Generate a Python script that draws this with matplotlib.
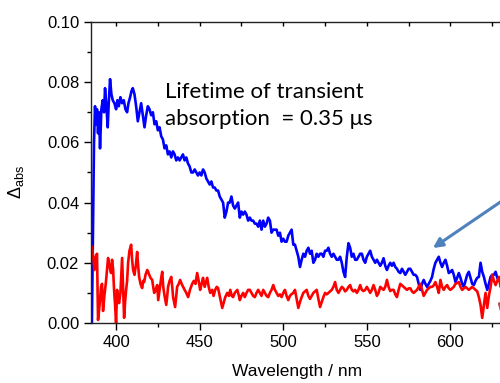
import matplotlib
matplotlib.use("Agg")
import matplotlib.pyplot as plt
from matplotlib.ticker import MultipleLocator

plt.rcParams["font.family"] = ["Liberation Sans", "DejaVu Sans"]
plt.rcParams["mathtext.fontset"] = "custom"
plt.rcParams["mathtext.rm"] = "Liberation Sans"
plt.rcParams["mathtext.it"] = "Liberation Sans:italic"

# transient absorption spectrum (blue) and background (red)
blue_nm = [385.5, 386.2, 386.8, 387.4, 388.0, 388.6, 389.2, 389.8, 390.4, 391.2,
           392.0, 392.8, 393.4, 394.2, 395.0, 395.6, 396.4, 397.2, 398.0, 399.0,
           400, 400.8, 401.6, 402.6, 403.6, 404.6, 405.6, 406.6, 407.4, 408.4,
           409.2, 410, 411, 412, 413, 414, 415, 416, 417, 418, 419, 420, 421, 422,
           423, 424, 425, 426, 427, 428, 429, 430, 431, 432, 433, 434, 435, 436,
           437, 438, 439, 440, 441, 442, 443, 444, 445, 446, 447, 448, 449, 450,
           451, 452, 453, 454, 455, 456, 457, 458, 459, 460, 461, 462, 463, 464,
           465, 466, 467, 468, 469, 470, 471, 472, 473, 474, 475, 476, 477, 478,
           479, 480, 481, 482, 483, 484, 485, 486, 487, 488, 489, 490, 491, 492,
           493, 494, 495, 496, 497, 498, 499, 500, 501, 502, 503, 504, 505, 506,
           507, 508, 509, 510, 511, 512, 513, 514, 515, 516, 517, 518, 519, 520,
           521, 522, 523, 524, 525, 526, 527, 528, 529, 530, 531, 532, 533, 534,
           535, 536, 537, 538, 539, 540, 541, 542, 543, 544, 545, 546, 547, 548,
           549, 550, 551, 552, 553, 554, 555, 556, 557, 558, 559, 560, 561, 562,
           563, 564, 565, 566, 567, 568, 569, 570, 571, 572, 573, 574, 575, 576,
           577, 578, 579, 580, 581, 582, 583, 584, 585, 586, 587, 588, 589, 590,
           591, 592, 593, 594, 595, 596, 597, 598, 599, 600, 601, 602, 603, 604,
           605, 606, 607, 608, 609, 610, 611, 612, 613, 614, 615, 616, 617, 618,
           619, 620, 621, 622, 623, 624, 625, 626, 627, 628, 629, 630, 631]
blue_abs = [-0.002, 0.030, 0.060, 0.072, 0.066, 0.071, 0.063, 0.070, 0.058, 0.071,
            0.074, 0.070, 0.078, 0.072, 0.065, 0.073, 0.081, 0.076, 0.074, 0.073,
            0.071, 0.074, 0.072, 0.075, 0.073, 0.074, 0.071, 0.070, 0.073, 0.075,
            0.077, 0.078, 0.076, 0.072, 0.067, 0.070, 0.073, 0.069, 0.065, 0.069,
            0.072, 0.071, 0.069, 0.070, 0.066, 0.067, 0.064, 0.065, 0.062, 0.061,
            0.058, 0.059, 0.056, 0.057, 0.055, 0.057, 0.056, 0.054, 0.055, 0.054,
            0.055, 0.056, 0.054, 0.055, 0.053, 0.052, 0.050, 0.050, 0.051, 0.050,
            0.049, 0.050, 0.049, 0.051, 0.050, 0.048, 0.047, 0.046, 0.047, 0.045,
            0.045, 0.044, 0.044, 0.042, 0.041, 0.040, 0.035, 0.037, 0.040, 0.040,
            0.042, 0.039, 0.038, 0.039, 0.040, 0.035, 0.037, 0.036, 0.037, 0.036,
            0.034, 0.035, 0.034, 0.034, 0.033, 0.033, 0.032, 0.034, 0.031, 0.034,
            0.032, 0.033, 0.035, 0.034, 0.030, 0.031, 0.031, 0.031, 0.029, 0.030,
            0.027, 0.028, 0.027, 0.027, 0.029, 0.030, 0.031, 0.026, 0.026, 0.024,
            0.022, 0.0186, 0.021, 0.023, 0.022, 0.024, 0.025, 0.023, 0.024, 0.020,
            0.021, 0.023, 0.022, 0.023, 0.023, 0.022, 0.024, 0.024, 0.025, 0.023,
            0.022, 0.023, 0.022, 0.021, 0.021, 0.022, 0.020, 0.017, 0.0153, 0.022,
            0.0265, 0.025, 0.022, 0.023, 0.021, 0.021, 0.022, 0.023, 0.023, 0.021,
            0.020, 0.022, 0.023, 0.024, 0.022, 0.021, 0.020, 0.021, 0.020, 0.019,
            0.020, 0.0215, 0.019, 0.0176, 0.019, 0.020, 0.019, 0.020, 0.0186, 0.018,
            0.017, 0.0166, 0.018, 0.017, 0.016, 0.017, 0.018, 0.018, 0.017, 0.016,
            0.016, 0.0153, 0.013, 0.011, 0.013, 0.0143, 0.013, 0.012, 0.013, 0.014,
            0.0153, 0.018, 0.020, 0.021, 0.022, 0.020, 0.0186, 0.020, 0.021, 0.019,
            0.0166, 0.017, 0.0176, 0.016, 0.0136, 0.015, 0.0166, 0.015, 0.013, 0.012,
            0.014, 0.016, 0.017, 0.015, 0.013, 0.0126, 0.014, 0.015, 0.0153, 0.020,
            0.017, 0.0153, 0.013, 0.011, 0.013, 0.0153, 0.016, 0.016, 0.017, 0.015,
            0.014, 0.0143, 0.015]

red_nm = [385.6, 386.3, 387.0, 387.8, 388.6, 389.2, 389.8, 390.4, 391.0, 391.6,
          392.2, 393.0, 394.0, 394.6, 395.2, 396.0, 397.0, 397.6, 398.2, 398.8,
          399.4, 400.0, 400.6, 401.2, 401.8, 402.6, 403.6, 404.2, 404.8, 405.4,
          406.0, 406.6, 407.2, 408.0, 409.0, 409.6, 410.2, 411.0, 411.8, 412.6,
          413.2, 413.8, 414.6, 415.6, 416.2, 416.8, 417.6, 418.6, 419.2, 419.8,
          420.6, 421.6, 422.2, 422.8, 423.6, 424.6, 425.2, 426.0, 427.0, 427.6,
          428.2, 429.0, 430.0, 430.6, 431.1, 432.0, 433.0, 433.6, 434.1, 435.3,
          436.0, 436.5, 437.5, 438.3, 439.2, 440.1, 441.0, 442.0, 443.1, 444.2,
          445.5, 446.5, 447.5, 448.5, 449.4, 450.3, 451.2, 452.0, 453.0, 454.0,
          454.5, 455.4, 456.3, 457.5, 458.3, 459.3, 460.2, 461.0, 462.0, 463.5,
          464.5, 465.3, 466.5, 467.5, 468.3, 469.2, 470.0, 471.0, 472.5, 473.5,
          474, 475, 476, 477, 478, 479, 480, 481, 482, 483, 484, 485, 486, 487,
          488, 489, 490, 491, 492, 493, 494, 495, 496, 497, 498, 499, 500, 501,
          502, 503, 504, 505, 506, 507, 508, 509, 510, 511, 512, 513, 514, 515,
          516, 517, 518, 519, 520, 521, 522, 523, 524, 525, 526, 527, 528, 529,
          530, 531, 532, 533, 534, 535, 536, 537, 538, 539, 540, 541, 542, 543,
          544, 545, 546, 547, 548, 549, 550, 551, 552, 553, 554, 555, 556, 557,
          558, 559, 560, 561, 562, 563, 564, 565, 566, 567, 568, 569, 570, 571,
          572, 573, 574, 575, 576, 577, 578, 579, 580, 581, 582, 583, 584, 585,
          586, 587, 588, 589, 590, 591, 592, 593, 594, 595, 596, 597, 598, 599,
          600, 601, 602, 603, 604, 605, 606, 607, 608, 609, 610, 611, 612, 613,
          614, 615, 616, 617, 618, 619, 620, 621, 622, 623, 624, 625, 626, 627,
          628, 629, 630, 631]
red_abs = [0.0253, 0.022, 0.0176, 0.022, 0.023, 0.001, 0.004, 0.0076, 0.012, 0.013,
           0.004, 0.009, 0.014, 0.018, 0.0216, 0.019, 0.0166, 0.021, 0.018, 0.011,
           0.006, 0.000, 0.011, 0.008, 0.0066, 0.010, 0.0216, 0.012, 0.0017, 0.007,
           0.011, 0.014, 0.020, 0.024, 0.026, 0.021, 0.0176, 0.016, 0.019, 0.0236,
           0.019, 0.0153, 0.013, 0.0116, 0.014, 0.0136, 0.016, 0.0176, 0.017, 0.016,
           0.015, 0.0143, 0.012, 0.010, 0.011, 0.0126, 0.0076, 0.011, 0.015, 0.017,
           0.012, 0.009, 0.006, 0.009, 0.012, 0.014, 0.0153, 0.012, 0.0086, 0.0053,
           0.009, 0.012, 0.013, 0.0143, 0.013, 0.012, 0.011, 0.010, 0.0086, 0.011,
           0.013, 0.014, 0.013, 0.0166, 0.014, 0.011, 0.013, 0.015, 0.012, 0.014,
           0.015, 0.012, 0.010, 0.011, 0.009, 0.011, 0.012, 0.0116, 0.009, 0.005,
           0.007, 0.0086, 0.010, 0.009, 0.011, 0.009, 0.0086, 0.010, 0.011, 0.009,
           0.0076, 0.009, 0.010, 0.0086, 0.010, 0.011, 0.011, 0.010, 0.009, 0.0086,
           0.010, 0.011, 0.010, 0.009, 0.011, 0.010, 0.009, 0.0086, 0.010, 0.011,
           0.0126, 0.011, 0.010, 0.009, 0.0095, 0.0086, 0.010, 0.011, 0.009, 0.0076,
           0.009, 0.0096, 0.010, 0.011, 0.008, 0.005, 0.007, 0.0086, 0.010, 0.0105,
           0.011, 0.009, 0.008, 0.009, 0.010, 0.0105, 0.011, 0.008, 0.0053, 0.007,
           0.0086, 0.010, 0.0095, 0.010, 0.0105, 0.011, 0.012, 0.0136, 0.011, 0.010,
           0.011, 0.012, 0.0115, 0.0105, 0.011, 0.012, 0.0126, 0.011, 0.0105, 0.011,
           0.010, 0.011, 0.0126, 0.011, 0.0106, 0.011, 0.012, 0.011, 0.010, 0.011,
           0.0126, 0.011, 0.009, 0.010, 0.012, 0.0115, 0.011, 0.012, 0.0143, 0.012,
           0.0106, 0.011, 0.011, 0.0095, 0.0086, 0.011, 0.013, 0.0125, 0.012, 0.0115,
           0.011, 0.0115, 0.0115, 0.0105, 0.010, 0.0105, 0.011, 0.012, 0.013, 0.011,
           0.009, 0.010, 0.011, 0.0115, 0.012, 0.012, 0.0125, 0.0136, 0.012, 0.010,
           0.0143, 0.012, 0.011, 0.012, 0.0126, 0.0115, 0.011, 0.0115, 0.012, 0.013,
           0.0133, 0.0136, 0.012, 0.011, 0.0115, 0.012, 0.0115, 0.011, 0.0115, 0.012,
           0.0115, 0.011, 0.0105, 0.0086, 0.006, 0.0017, 0.006, 0.010, 0.005, 0.009,
           0.012, 0.016, 0.014, 0.0126, 0.014, 0.0153, 0.012, 0.013]

x_ticks = [400, 450, 500, 550, 600]
y_ticks = [0.00, 0.02, 0.04, 0.06, 0.08, 0.10]

fig = plt.figure(figsize=(5.0, 3.83), dpi=100)
# the original axes run past the right edge of the picture
ax = fig.add_axes([0.182, 0.1567, 0.856, 0.786])

ax.plot(blue_nm, blue_abs, color="#0000ff", lw=1.9)
ax.plot(red_nm, red_abs, color="#ff0000", lw=1.9)

ax.set_xlim(385, 641)
ax.set_ylim(0, 0.10)
ax.set_xticks(x_ticks)
ax.set_yticks(y_ticks)
ax.set_yticklabels([f"{v:.2f}" for v in y_ticks])
ax.xaxis.set_minor_locator(MultipleLocator(25))
ax.yaxis.set_minor_locator(MultipleLocator(0.01))

for s in ax.spines.values():
    s.set_linewidth(1.0)
    s.set_color("#222222")
ax.tick_params(which="both", direction="out", labelsize=12, width=1.0,
               top=False, right=False)
ax.tick_params(which="major", length=5)
ax.tick_params(which="minor", length=3)

# inward ticks along the top edge
top = ax.twiny()
top.set_xlim(ax.get_xlim())
top.set_xticks(x_ticks)
top.xaxis.set_minor_locator(MultipleLocator(25))
top.tick_params(which="both", direction="in", labeltop=False, length=3, width=1.0)
for s in top.spines.values():
    s.set_visible(False)

ax.set_xlabel("Wavelength / nm", fontsize=12.5)
ax.xaxis.set_label_coords(0.481, -0.135)
ax.set_ylabel(r"$\Delta_{\mathrm{abs}}$", fontsize=13)
ax.yaxis.set_label_coords(-0.152, 0.47)

ax.text(0.173, 0.80, "Lifetime of transient\nabsorption  = 0.35 \u03bcs",
        transform=ax.transAxes, family=["Lato", "DejaVu Sans"], fontsize=16,
        linespacing=1.4, va="top", ha="left")

ax.annotate("", xy=(589.5, 0.0249), xytext=(632, 0.041),
            arrowprops=dict(arrowstyle="-|>", color="#4f81bd", lw=2.2,
                            mutation_scale=14, shrinkA=0, shrinkB=0),
            annotation_clip=False)
ax.annotate("", xy=(628, 0.0072), xytext=(646, -0.004),
            arrowprops=dict(arrowstyle="-|>", color="#c0504d", lw=2.2,
                            mutation_scale=14, shrinkA=0, shrinkB=0),
            annotation_clip=False)

fig.savefig("out.png", dpi=100)
